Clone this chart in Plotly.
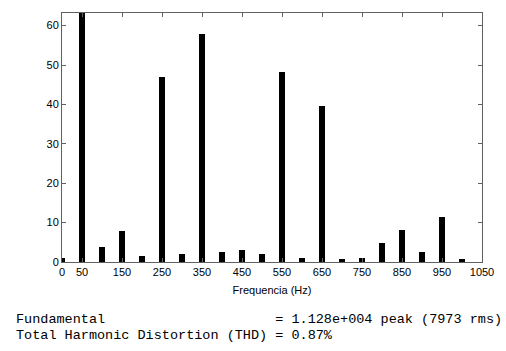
import plotly.graph_objects as go

# Harmonic frequencies (Hz) and magnitudes (% of fundamental)
freqs = [0, 50, 100, 150, 200, 250, 300, 350, 400, 450, 500,
         550, 600, 650, 700, 750, 800, 850, 900, 950, 1000]
mags = [0.9, 100, 3.9, 7.9, 1.4, 46.9, 2.0, 57.9, 2.6, 3.0, 2.0,
        48.2, 1.1, 39.5, 0.8, 1.1, 4.7, 8.1, 2.6, 11.4, 0.8]

x_ticks = [0, 50, 150, 250, 350, 450, 550, 650, 750, 850, 950, 1050]
y_ticks = [0, 10, 20, 30, 40, 50, 60]

x_title = "Frequencia (Hz)"
info_lines = [
    "Fundamental                     = 1.128e+004 peak (7973 rms)",
    "Total Harmonic Distortion (THD) = 0.87%",
]

fig = go.Figure()
fig.add_trace(go.Bar(x=freqs, y=mags, width=17,
                     marker=dict(color="black", line=dict(width=0))))

axis_common = dict(showline=True, linecolor="#606060", linewidth=1,
                   mirror="ticks", ticks="inside", ticklen=4,
                   tickcolor="#606060", showgrid=False, zeroline=False,
                   tickfont=dict(family="Liberation Sans, Arial", size=11,
                                 color="black"))

fig.update_layout(
    width=506, height=351,
    margin=dict(l=62, r=24, t=13, b=89),
    plot_bgcolor="white", paper_bgcolor="white",
    showlegend=False,
    bargap=0,
    xaxis=dict(range=[0, 1050], tickvals=x_ticks,
               ticktext=[str(v) for v in x_ticks],
               title=dict(text=x_title, standoff=9,
                          font=dict(family="Liberation Sans, Arial",
                                    size=11, color="black")),
               **axis_common),
    yaxis=dict(range=[0, 63.2], tickvals=y_ticks,
               ticktext=[str(v) for v in y_ticks],
               **axis_common),
)

for line, shift in zip(info_lines, [-57, -73]):
    fig.add_annotation(
        x=0, xref="paper", xanchor="left", xshift=-48,
        y=0, yref="paper", yanchor="middle", yshift=shift,
        text=line.replace(" ", "&nbsp;"),
        showarrow=False, align="left",
        font=dict(family="Liberation Mono, Courier New", size=13.5,
                  color="black"),
    )

fig.write_html("out.html")
